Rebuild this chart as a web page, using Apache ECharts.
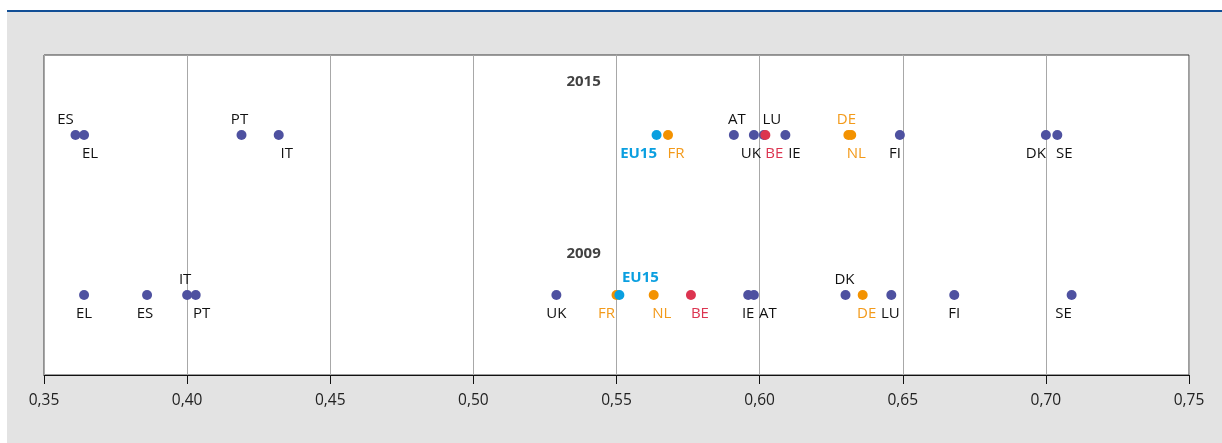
<!DOCTYPE html>
<html>
<head>
<meta charset="utf-8">
<script src="https://cdn.jsdelivr.net/npm/echarts@6/dist/echarts.min.js"></script>
<style>
    html, body { margin: 0; padding: 0; background: #fff; }
    .panel {
        position: absolute; left: 7px; top: 10px; width: 1215px; height: 431px;
        background: #e3e3e3; border-top: 2px solid #124f96;
    }
    #chart { position: absolute; left: 0; top: 0; width: 1222px; height: 443px; }
</style>
</head>
<body>
<div class="panel"></div>
<div id="chart"></div>
<script>
    // x axis ticks
    var tickMin = 0.35, tickMax = 0.75, tickStep = 0.05;
    var years = ['2015', '2009'];

    // 2015 row (draw order: later on top)
    var countries2015 = ['ES', 'EL', 'PT', 'IT', 'EU15', 'FR', 'AT', 'UK', 'LU', 'BE', 'IE', 'DE', 'NL', 'FI', 'DK', 'SE'];
    var values2015 = [0.361, 0.364, 0.419, 0.432, 0.564, 0.568, 0.591, 0.598, 0.6015, 0.602, 0.609, 0.631, 0.632, 0.649, 0.700, 0.704];

    // 2009 row
    var countries2009 = ['EL', 'ES', 'IT', 'PT', 'UK', 'FR', 'EU15', 'NL', 'BE', 'IE', 'AT', 'DK', 'DE', 'LU', 'FI', 'SE'];
    var values2009 = [0.364, 0.386, 0.400, 0.403, 0.529, 0.550, 0.551, 0.563, 0.576, 0.596, 0.598, 0.630, 0.636, 0.646, 0.668, 0.709];

    // label placement: [position, dx, distance]
    var place2015 = [['top', -10, 3], ['bottom', 6, 6], ['top', -2, 3], ['bottom', 8, 6], ['bottom', -18, 6],
        ['bottom', 8, 6], ['top', 3, 3], ['bottom', -3, 6], ['top', 8, 3], ['bottom', 9, 6], ['bottom', 9, 6],
        ['top', -2, 3], ['bottom', 5, 6], ['bottom', -5, 6], ['bottom', -10, 6], ['bottom', 7, 6]];
    var place2009 = [['bottom', 0, 6], ['bottom', -2, 6], ['top', -2, 3], ['bottom', 6, 6], ['bottom', 0, 6],
        ['bottom', -10, 6], ['top', 21, 5], ['bottom', 8, 6], ['bottom', 9, 6], ['bottom', 0, 6], ['bottom', 14, 6],
        ['top', -1, 3], ['bottom', 4, 6], ['bottom', -1, 6], ['bottom', 0, 6], ['bottom', -8, 6]];
    var rowY = { '2015': 3, '2009': 1 };
    var yearLabelX = 0.5385;
    var yearLabelRise = { '2015': 53, '2009': 41 };

    var colors = {
        base: { dot: '#4e51a0', text: '#111' },
        orange: { dot: '#f39200', text: '#f39a1a' },
        red: { dot: '#dc3450', text: '#dc3450' },
        eu: { dot: '#0a9fe0', text: '#0a9fe0' }
    };
    function groupOf(c) {
        if (c === 'EU15') return 'eu';
        if (c === 'FR' || c === 'NL' || c === 'DE') return 'orange';
        if (c === 'BE') return 'red';
        return 'base';
    }

    function buildRow(year, names, vals, place) {
        return names.map(function (c, i) {
            var g = colors[groupOf(c)];
            return {
                name: c,
                value: [vals[i], rowY[year]],
                itemStyle: { color: g.dot, opacity: 1 },
                label: {
                    show: true,
                    formatter: c,
                    position: place[i][0],
                    offset: [place[i][1], 0],
                    distance: place[i][2],
                    color: g.text,
                    fontWeight: c === 'EU15' ? 'bold' : 'normal'
                }
            };
        });
    }

    var chart = echarts.init(document.getElementById('chart'));
    chart.setOption({
        animation: false,
        textStyle: { fontFamily: 'Open Sans' },
        grid: {
            left: 44, right: 33, top: 55, bottom: 68,
            show: true, backgroundColor: '#fff', borderColor: '#3a3a3a', borderWidth: 1
        },
        xAxis: {
            type: 'value', min: tickMin, max: tickMax, interval: tickStep,
            axisLine: { show: true, lineStyle: { color: '#111', width: 1 } },
            axisTick: { show: true, length: 9, lineStyle: { color: '#111' } },
            axisLabel: {
                margin: 18, fontSize: 15.5, color: '#222', fontFamily: 'Open Sans',
                formatter: function (v) { return v.toFixed(2).replace('.', ','); }
            },
            splitLine: { show: true, lineStyle: { color: '#a8a8a8', width: 1 } }
        },
        yAxis: {
            type: 'value', min: 0, max: 4,
            axisLine: { show: false }, axisTick: { show: false }, axisLabel: { show: false },
            splitLine: { show: false }
        },
        series: [
            {
                type: 'scatter', symbolSize: 10,
                label: { fontSize: 15, fontFamily: 'Open Sans' },
                data: buildRow('2015', countries2015, values2015, place2015)
            },
            {
                type: 'scatter', symbolSize: 10,
                label: { fontSize: 15, fontFamily: 'Open Sans' },
                data: buildRow('2009', countries2009, values2009, place2009)
            },
            {
                type: 'scatter', symbolSize: 0, silent: true,
                data: years.map(function (y) {
                    return {
                        value: [yearLabelX, rowY[y]],
                        label: {
                            show: true, formatter: y, position: 'inside',
                            offset: [0, -yearLabelRise[y]],
                            fontSize: 15, fontWeight: 'bold', color: '#111', fontFamily: 'Open Sans'
                        }
                    };
                })
            }
        ]
    });
</script>
</body>
</html>
